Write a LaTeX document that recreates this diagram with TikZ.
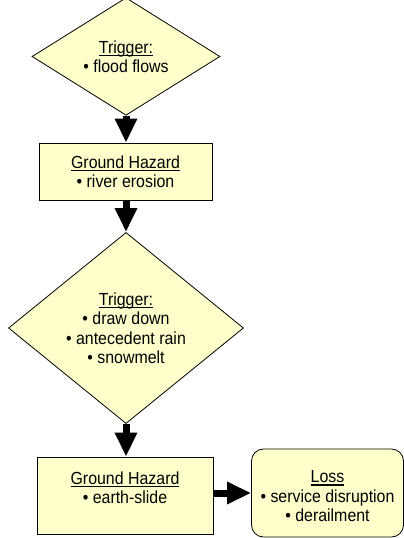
\documentclass[tikz,border=0pt]{standalone}
\usepackage{fontspec}
\setmainfont{Liberation Sans}[FakeStretch=0.91]
\usepackage{tikz}
\usetikzlibrary{arrows.meta,shapes.geometric,positioning}
\usepackage{xcolor}
\definecolor{hzfill}{RGB}{255,255,204}
\newcommand{\hdr}[1]{\setbox0\hbox{#1}\rlap{\rule[-2.8pt]{\wd0}{1.3pt}}\box0}
\tikzstyle{trigger} = [diamond, draw=black, line width=0.8pt, fill=hzfill, inner sep=0pt, align=center, font=\fontsize{17.5}{19.5}\selectfont]
\tikzstyle{hazard} = [rectangle, draw=black, line width=0.8pt, fill=hzfill, inner sep=0pt, align=center, font=\fontsize{17.5}{19.5}\selectfont]
\tikzstyle{lossbox} = [hazard, rounded corners=12pt]
\tikzstyle{txt} = [inner sep=0pt, align=center, font=\fontsize{17.5}{19.5}\selectfont]
\tikzstyle{arrow} = [line width=7pt,-{Triangle[length=24pt,width=21pt]},color=black]

\begin{document}
\begin{tikzpicture}[x=1pt,y=-1pt]
\useasboundingbox (0,0) rectangle (404,538);

% First trigger
\node[trigger, minimum width=188pt, minimum height=101pt] (trig1) at (126,56.5) {\hdr{Trigger:}\\ • flood flows};

% First ground hazard
\node[hazard, minimum width=173pt, minimum height=57pt] (haz1) at (125.5,171.5) {\hdr{Ground Hazard}\\ • river erosion};

% Second trigger
\node[trigger, minimum width=235pt, minimum height=182pt] (trig2) at (126,328) {\hdr{Trigger:}\\ • draw down\\ • antecedent rain\\ • snowmelt};

% Second ground hazard and loss
\node[hazard, minimum width=176pt, minimum height=77pt] (haz2) at (125,495.5) {};
\node[txt, below=15pt of haz2.north] (haz2txt) {\hdr{Ground Hazard}\\ • earth-slide};
\node[lossbox, minimum width=152pt, minimum height=88pt] (loss) at (327.5,493) {};
\node[txt, below=22pt of loss.north] (losstxt) {\hdr{Loss}\\ • service disruption\\ • derailment};

% Arrows
\draw[arrow] (trig1.south) -- (trig1.south |- haz1.north);
\draw[arrow] (trig2.north |- haz1.south) -- (trig2.north);
\draw[arrow] (trig2.south) -- (trig2.south |- haz2.north);
\draw[arrow] (haz2.east |- loss.west) -- (loss.west);
\end{tikzpicture}
\end{document}
